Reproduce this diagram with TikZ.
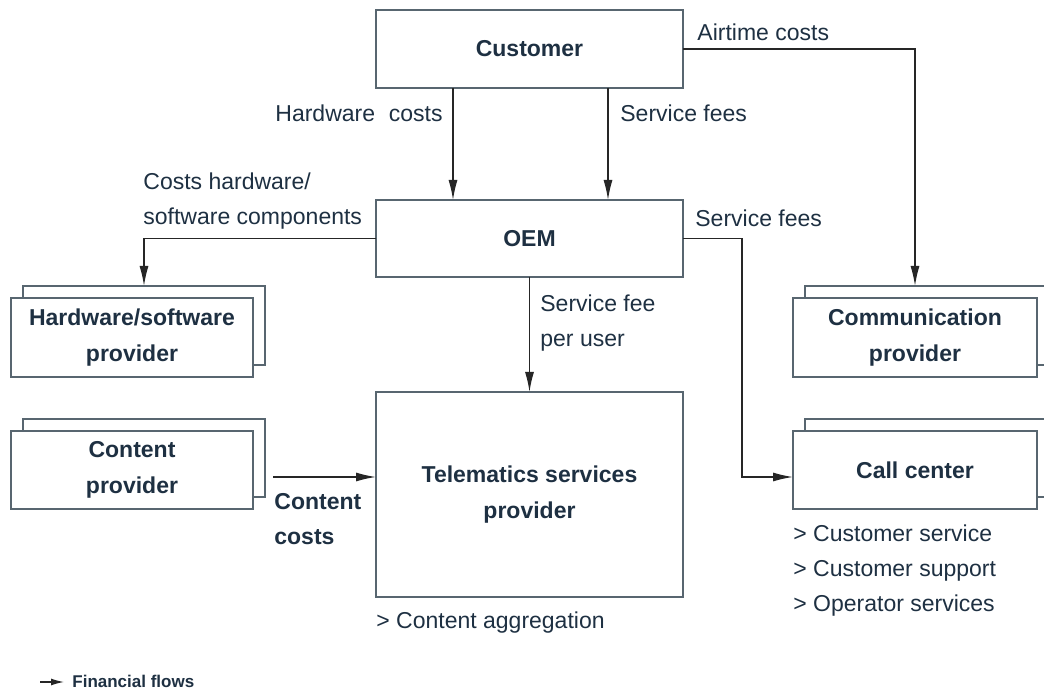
\documentclass[tikz,border=0pt]{standalone}
\usepackage{fontspec}
\setmainfont{Liberation Sans}
\usetikzlibrary{arrows.meta}
\definecolor{ink}{RGB}{30,48,66}
\definecolor{rule}{RGB}{88,102,112}

\begin{document}
\begin{tikzpicture}[x=0.5pt,y=-0.5pt,
  box/.style={draw=rule,line width=0.9pt,fill=white,inner sep=0pt,outer sep=0pt,
    align=center,text=ink,font=\fontsize{11.5}{18}\selectfont\bfseries},
  flow/.style={draw=black!85,line width=0.7pt,-{Latex[length=10pt,width=4.5pt]}},
  lbl/.style={inner sep=0pt,text=ink,align=left,font=\fontsize{11.5}{17.5}\selectfont}]
\useasboundingbox[fill=white] (0,0) rectangle (1044,694);

\node[box,minimum width=153.5pt,minimum height=39pt] (cust) at (529.5,49) {Customer};
\node[box,minimum width=153.5pt,minimum height=38.5pt] (oem) at (529.5,238.5) {OEM};
\node[box,minimum width=153.5pt,minimum height=102.5pt] (tsp) at (529.5,494.5) {Telematics services\\provider};

\node[box,minimum width=121pt,minimum height=39.5pt] (hwB) at (144,325.5) {};
\node[box,minimum width=121pt,minimum height=39.5pt] (hw) at (132,337.5) {Hardware/software\\provider};
\node[box,minimum width=121pt,minimum height=39pt] (conB) at (144,458) {};
\node[box,minimum width=121pt,minimum height=39pt] (con) at (132,470) {Content\\provider};

\node[box,minimum width=122pt,minimum height=39.5pt] (commB) at (927,325.5) {};
\node[box,minimum width=122pt,minimum height=39.5pt] (comm) at (915,337.5) {Communication\\provider};
\node[box,minimum width=122pt,minimum height=39pt] (callB) at (927,458) {};
\node[box,minimum width=122pt,minimum height=39pt] (call) at (915,470) {Call center};

\coordinate (hwc) at (453,0);
\coordinate (sfc) at (608,0);
\coordinate (cc) at (742,477);
\coordinate (ccost) at (273,477);

\draw[flow] (cust.south -| hwc) -- (oem.north -| hwc);
\draw[flow] (cust.south -| sfc) -- (oem.north -| sfc);
\draw[flow] (cust.east) -| (comm.north |- commB.north);
\draw[flow] (oem.west) -| (hwB.north);
\draw[flow] (oem.south) -- (tsp.north);
\draw[flow] (oem.east) -| (cc) -- (cc -| call.west);
\draw[flow] (ccost) -- (ccost -| tsp.west);

\node[lbl,anchor=east] (hwcost) at (443,113) {Hardware\hspace{0.6em}costs};
\node[lbl,anchor=west] (sfee) at (620,113) {Service fees};
\node[lbl,anchor=west] (air) at (697,32) {Airtime costs};
\node[lbl,anchor=west] (hwsw) at (143,201) {Costs hardware/\\software components};
\node[lbl,anchor=west] (oemfee) at (695,218) {Service fees};
\node[lbl,anchor=west] (peruser) at (540,323) {Service fee\\per user};
\node[lbl,anchor=west,font=\fontsize{11.5}{17.5}\selectfont\bfseries] (concost) at (274,519) {Content\\costs};
\node[lbl,anchor=west] (agg) at (376,623) {> Content aggregation};
\node[lbl,anchor=west] (callsv) at (793,571) {> Customer service\\> Customer support\\> Operator services};

\coordinate (lg) at (40,682);
\draw[flow,-{Latex[length=6.5pt,width=3.5pt]}] (lg) -- ++(24,0);
\node[lbl,anchor=west,font=\fontsize{8.5}{9}\selectfont\bfseries] (legend) at (72,681) {Financial flows};
\end{tikzpicture}
\end{document}
